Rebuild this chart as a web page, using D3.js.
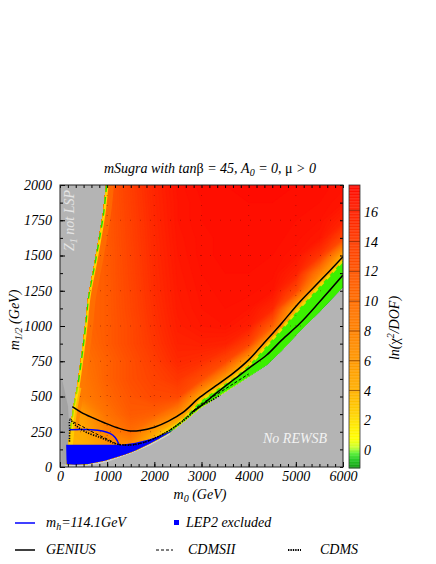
<!DOCTYPE html>
<html>
<head>
<meta charset="utf-8">
<script src="https://cdn.jsdelivr.net/npm/d3@7"></script>
<style>
body { margin: 0; background: #fff; }
text { font-family: "Liberation Serif", "Times New Roman", serif; font-style: italic; }
</style>
</head>
<body>
<svg id="chart" width="436" height="564"></svg>
<script>
// ---- data ----
const m0Grid    = [0, 500, 1000, 1500, 2000, 2500, 3000, 3500, 4000, 4500, 5000, 5500, 6000]
const mhalfGrid = [0, 125, 250, 375, 500, 625, 750, 875, 1000, 1125, 1250, 1375, 1500, 1625, 1750, 1875, 2000]

// ln(chi2/DOF), rows from m1/2 = 2000 (top) down to m1/2 = 0
const lnChi2Rows = [
    [10.0, 10.5, 11.7, 13.9, 15.8, 17.1, 17.5, 17.6, 17.6, 17.6, 17.6, 17.5, 17.3],
    [10.0, 10.5, 11.7, 13.8, 15.7, 17.0, 17.4, 17.5, 17.6, 17.6, 17.5, 17.4, 17.0],
    [10.0, 10.5, 11.6, 13.7, 15.6, 17.0, 17.4, 17.5, 17.5, 17.5, 17.4, 17.2, 16.0],
    [10.0, 10.5, 11.6, 13.6, 15.5, 16.9, 17.3, 17.5, 17.5, 17.5, 17.3, 16.8, 13.0],
    [10.0, 10.5, 11.5, 13.5, 15.4, 16.8, 17.3, 17.5, 17.5, 17.4, 17.0, 14.5, 4.0],
    [10.0, 10.5, 11.5, 13.4, 15.3, 16.7, 17.2, 17.4, 17.4, 17.3, 16.0, 8.0, 0.0],
    [10.0, 10.5, 11.5, 13.3, 15.2, 16.6, 17.1, 17.3, 17.3, 17.0, 13.0, 1.0, -0.5],
    [10.0, 10.5, 11.5, 13.2, 15.0, 16.5, 17.0, 17.2, 17.0, 15.5, 4.0, -0.5, -0.5],
    [10.0, 10.5, 11.5, 13.0, 14.8, 16.3, 16.8, 17.0, 16.3, 11.0, 0.0, -0.5, -0.5],
    [9.5, 10.0, 11.5, 13.0, 14.5, 16.0, 16.2, 16.0, 13.5, 1.0, -0.5, -0.5, -0.5],
    [9.0, 9.5, 11.0, 12.5, 14.0, 15.5, 15.0, 13.0, 4.0, -0.5, -0.5, -0.5, -0.5],
    [8.0, 9.0, 11.0, 12.5, 13.5, 14.5, 12.5, 5.0, -0.5, -0.5, -0.5, -0.5, -0.5],
    [7.0, 8.5, 10.5, 12.0, 13.0, 13.0, 4.0, -0.5, -0.5, -0.5, -0.5, -0.5, -0.5],
    [5.0, 5.5, 9.5, 11.5, 11.0, 7.0, -0.5, -0.5, -0.5, -0.5, -0.5, -0.5, -0.5],
    [4.0, 4.5, 8.0, 10.0, 5.0, -0.5, -0.5, -0.5, -0.5, -0.5, -0.5, -0.5, -0.5],
    [4.0, 4.0, 6.0, 6.0, 2.0, -0.5, -0.5, -0.5, -0.5, -0.5, -0.5, -0.5, -0.5],
    [3.0, 3.0, 5.0, 5.0, 2.0, -0.5, -0.5, -0.5, -0.5, -0.5, -0.5, -0.5, -0.5]
]

// boundary of "Z1 not LSP" region, top to bottom  [m0, m1/2]
const lspBoundary = [[975, 2000], [912, 1800], [742, 1467], [594, 1205], [530, 1000], [460, 808],
    [360, 567], [280, 425], [212, 262], [175, 156], [150, 60], [140, 20]]
// boundary of "No REWSB" region, left to right
const rewsbBoundary = [[140, 20], [320, 16], [600, 22], [950, 45], [1380, 88], [1590, 115], [1900, 165],
    [2100, 200], [2330, 245], [2600, 315], [2968, 416], [3300, 490], [3674, 569], [4000, 640],
    [4382, 723], [4700, 825], [5088, 965], [5500, 1100], [6000, 1277]]
// top edge of the green band along the REWSB boundary
const greenTop = [[2050, 205], [2330, 265], [2600, 335], [2968, 465], [3300, 545], [3674, 630],
    [4000, 720], [4382, 860], [4700, 980], [5088, 1130], [5500, 1280], [6000, 1465]]

const darkGray  = [[30, 630], [60, 600], [170, 430], [190, 300], [190, 100], [175, 20], [30, 20]]
const lightBand = [[60, 0], [140, 20], [320, 16], [600, 22], [950, 45], [1380, 88], [1590, 115],
    [1900, 165], [2330, 245], [2330, 228], [1900, 150], [1500, 95], [1000, 35], [600, 8], [300, 0]]
const lep2Region = [[130, 158], [1300, 158], [1600, 172], [1900, 196], [2150, 226], [2330, 252], [2420, 268],
    [2330, 245], [2100, 200], [1900, 165], [1590, 115], [1380, 88], [950, 45], [600, 22], [320, 16], [140, 20]]

const mhLine = [[200, 265], [420, 266], [672, 265], [900, 255], [1060, 238], [1170, 210], [1250, 160]]
const geniusUpper = [[261, 428], [450, 388], [700, 348], [950, 312], [1200, 280], [1450, 257], [1700, 259],
    [2000, 282], [2300, 325], [2600, 385], [2968, 495], [3300, 575], [3674, 666], [4000, 760],
    [4382, 900], [4700, 1020], [5088, 1172], [5500, 1315], [6000, 1491]]
const geniusLower = [[2800, 390], [2968, 428], [3300, 520], [3674, 617], [4000, 700], [4382, 794],
    [4700, 900], [5088, 1019], [5500, 1170], [6000, 1361]]
const cdms2Line = [[212, 345], [300, 318], [460, 290], [650, 255], [850, 222], [1050, 190], [1237, 160],
    [1500, 158], [1750, 172], [1950, 195], [2150, 228], [2330, 262], [2600, 330], [2968, 440],
    [3300, 510], [3674, 590], [4000, 660]]
const cdmsLine = [[200, 180], [205, 260], [212, 333], [350, 290], [565, 245], [848, 210], [1050, 182],
    [1202, 163], [1554, 157], [1908, 190], [2261, 248], [2614, 328], [2968, 430], [3200, 470], [3400, 510]]

const xTicks  = [0, 1000, 2000, 3000, 4000, 5000, 6000]
const yTicks  = [0, 250, 500, 750, 1000, 1250, 1500, 1750, 2000]
const cbTicks = [0, 2, 4, 6, 8, 10, 12, 14, 16]

const colorStops = [[-1.2, '#119911'], [-0.6, '#22cc22'], [-0.2, '#55ee33'], [0.2, '#c8ff30'],
    [0.8, '#ffff00'], [1.5, '#ffee00'], [2.5, '#ffd000'], [4, '#ffb000'], [6, '#ff9800'],
    [8, '#ff8200'], [10, '#ff6e00'], [12, '#ff5500'], [14, '#ff3d00'], [16, '#ff2200'], [17.8, '#ff0a00']]

// ---- layout ----
const svg = d3.select('#chart')
const x  = d3.scaleLinear().domain([0, 6000]).range([60, 343])
const y  = d3.scaleLinear().domain([0, 2000]).range([467, 185])
const cbY = d3.scaleLinear().domain([-1.2, 17.8]).range([468, 185])
const color = d3.scaleLinear()
    .domain(colorStops.map(d => d[0]))
    .range(colorStops.map(d => d[1]))
    .clamp(true)

const smooth = d3.line().x(d => x(d[0])).y(d => y(d[1])).curve(d3.curveCatmullRom.alpha(0.5))
const poly = d3.line().x(d => x(d[0])).y(d => y(d[1])).curve(d3.curveLinearClosed)

const defs = svg.append('defs')
defs.append('clipPath').attr('id', 'plotClip')
    .append('rect').attr('x', 60).attr('y', 185).attr('width', 283).attr('height', 282)

const allowed = [...lspBoundary, ...rewsbBoundary.slice(1), [6000, 2000]]
defs.append('clipPath').attr('id', 'allowedClip')
    .append('path').attr('d', poly(allowed))

const plot = svg.append('g').attr('clip-path', 'url(#plotClip)')

plot.append('rect').attr('x', 60).attr('y', 185).attr('width', 283).attr('height', 282).attr('fill', '#b4b4b4')
plot.append('path').attr('d', poly(darkGray)).attr('fill', '#a2a2a2')
plot.append('path').attr('d', poly(lightBand)).attr('fill', '#cdcdcd')

// heat map from grid through d3.contours
const n = m0Grid.length, m = mhalfGrid.length
const values = lnChi2Rows.slice().reverse().flat()
const thresholds = d3.range(-1.2, 17.8, 0.2)
const contours = d3.contours().size([n, m]).thresholds(thresholds)(values)
const gx = d3.scaleLinear().domain([0.5, n - 0.5]).range([x(m0Grid[0]), x(m0Grid[n - 1])])
const gy = d3.scaleLinear().domain([0.5, m - 0.5]).range([y(mhalfGrid[0]), y(mhalfGrid[m - 1])])
const gridPath = d3.geoPath(d3.geoTransform({
    point(px, py) { this.stream.point(gx(px), gy(py)) }
}))

const field = plot.append('g').attr('clip-path', 'url(#allowedClip)')
field.selectAll('path.level')
    .data(contours)
    .join('path')
    .attr('class', 'level')
    .attr('d', gridPath)
    .attr('fill', d => color(d.value + 0.1))
    .attr('stroke', d => color(d.value + 0.1))
    .attr('stroke-width', 0.4)

// thin strips along the LSP boundary
const upperLsp = smooth(lspBoundary.slice(0, 9))
field.append('path').attr('d', upperLsp)
    .attr('fill', 'none').attr('stroke', '#ff7a00').attr('stroke-width', 16).attr('opacity', 0.5)
field.append('path').attr('d', upperLsp)
    .attr('fill', 'none').attr('stroke', '#ffd400').attr('stroke-width', 5)
field.append('path').attr('d', upperLsp)
    .attr('fill', 'none').attr('stroke', '#22dd00').attr('stroke-width', 2.6)
    .attr('stroke-dasharray', '7,5')
field.append('path').attr('d', smooth(lspBoundary.slice(6)))
    .attr('fill', 'none').attr('stroke', '#ffe600').attr('stroke-width', 9).attr('opacity', 0.55)

// green band along the REWSB boundary
const greenBand = [...rewsbBoundary.filter(d => d[0] >= 2050), ...greenTop.slice().reverse()]
field.append('path').attr('d', poly(greenBand)).attr('fill', '#3cf000')
field.append('path').attr('d', smooth(greenTop))
    .attr('fill', 'none').attr('stroke', '#f0d800').attr('stroke-width', 2.5)
    .attr('stroke-dasharray', '5,4')

// faint dotted grid
const dotted = field.append('g').attr('stroke', '#5a0000').attr('stroke-opacity', 0.4)
    .attr('stroke-width', 1).attr('stroke-dasharray', '1,9')
dotted.selectAll('line.h').data(yTicks.slice(1, -1)).join('line').attr('class', 'h')
    .attr('x1', 60).attr('x2', 343).attr('y1', d => y(d)).attr('y2', d => y(d))
dotted.selectAll('line.v').data(xTicks.slice(1, -1)).join('line').attr('class', 'v')
    .attr('y1', 185).attr('y2', 467).attr('x1', d => x(d)).attr('x2', d => x(d))

// LEP2 excluded
plot.append('path').attr('d', poly(lep2Region)).attr('fill', '#0000ff')

// curves
plot.append('path').attr('d', smooth(mhLine)).attr('fill', 'none')
    .attr('stroke', '#0000ff').attr('stroke-width', 1.5)
plot.append('path').attr('d', smooth(geniusUpper)).attr('fill', 'none')
    .attr('stroke', '#000').attr('stroke-width', 1.5)
plot.append('path').attr('d', smooth(geniusLower)).attr('fill', 'none')
    .attr('stroke', '#000').attr('stroke-width', 1.5)
plot.append('path').attr('d', smooth(cdms2Line)).attr('fill', 'none')
    .attr('stroke', '#000').attr('stroke-width', 1).attr('stroke-dasharray', '3,2')
plot.append('path').attr('d', smooth(cdmsLine)).attr('fill', 'none')
    .attr('stroke', '#000').attr('stroke-width', 1.6).attr('stroke-dasharray', '1.3,1.3')

// region labels
const lsp = svg.append('text').attr('transform', 'translate(74,251) rotate(-90)')
    .attr('font-size', 14).attr('fill', '#e4e4e4')
lsp.append('tspan').text('Z')
lsp.append('tspan').attr('dy', 3).attr('font-size', 10).text('1')
lsp.append('tspan').attr('dy', -3).text(' not LSP')

svg.append('text').attr('x', 263).attr('y', 443).attr('font-size', 14)
    .attr('fill', '#f2f2f2').text('No REWSB')

// frame and ticks
const minorX = d3.range(0, 6001, 1000 / 6)
const minorY = d3.range(0, 2001, 125)
const tickFont = sel => sel.selectAll('text').attr('font-size', 14).attr('fill', '#000')
    .style('font-family', '"Liberation Serif", serif').style('font-style', 'italic')

svg.append('g').attr('transform', 'translate(0,467)')
    .call(d3.axisBottom(x).tickValues(minorX).tickSize(-3).tickSizeOuter(0).tickFormat(''))
svg.append('g').attr('transform', 'translate(0,467)')
    .call(d3.axisBottom(x).tickValues(xTicks).tickSize(-5).tickSizeOuter(0).tickPadding(4).tickFormat(d3.format('d')))
    .call(tickFont)
svg.append('g').attr('transform', 'translate(0,185)')
    .call(d3.axisTop(x).tickValues(minorX).tickSize(-3).tickSizeOuter(0).tickFormat(''))
svg.append('g').attr('transform', 'translate(60,0)')
    .call(d3.axisLeft(y).tickValues(minorY).tickSize(-3).tickSizeOuter(0).tickFormat(''))
svg.append('g').attr('transform', 'translate(60,0)')
    .call(d3.axisLeft(y).tickValues(yTicks).tickSize(-5).tickSizeOuter(0).tickPadding(8).tickFormat(d3.format('d')))
    .call(tickFont)
svg.append('g').attr('transform', 'translate(343,0)')
    .call(d3.axisRight(y).tickValues(minorY).tickSize(-3).tickSizeOuter(0).tickFormat(''))
svg.selectAll('.domain').remove()
svg.append('rect').attr('x', 60).attr('y', 185).attr('width', 283).attr('height', 282)
    .attr('fill', 'none').attr('stroke', '#222').attr('stroke-width', 1)

// titles
const title = svg.append('text').attr('x', 210).attr('y', 173).attr('text-anchor', 'middle').attr('font-size', 14)
title.append('tspan').text('mSugra with tan')
title.append('tspan').style('font-style', 'normal').text('β')
title.append('tspan').text(' = 45, A')
title.append('tspan').attr('dy', 3).attr('font-size', 10).text('0')
title.append('tspan').attr('dy', -3).text(' = 0, ')
title.append('tspan').style('font-style', 'normal').text('μ')
title.append('tspan').text(' > 0')

const xl = svg.append('text').attr('x', 200).attr('y', 499).attr('text-anchor', 'middle').attr('font-size', 14)
xl.append('tspan').text('m')
xl.append('tspan').attr('dy', 3).attr('font-size', 10).text('0')
xl.append('tspan').attr('dy', -3).text(' (GeV)')

const yl = svg.append('text').attr('transform', 'translate(19,320) rotate(-90)')
    .attr('text-anchor', 'middle').attr('font-size', 14)
yl.append('tspan').text('m')
yl.append('tspan').attr('dy', 3).attr('font-size', 10).text('1/2')
yl.append('tspan').attr('dy', -3).text(' (GeV)')

// colour bar
const cb = svg.append('g')
cb.selectAll('rect.step')
    .data(d3.range(-1.2, 17.8, 0.05))
    .join('rect').attr('class', 'step')
    .attr('x', 349).attr('width', 11)
    .attr('y', d => cbY(d + 0.05))
    .attr('height', d => cbY(d) - cbY(d + 0.05) + 0.3)
    .attr('fill', d => color(d + 0.025))
cb.selectAll('line.lvl')
    .data([4, 6, 8, 10, 12, 14, 16.1])
    .join('line').attr('class', 'lvl')
    .attr('x1', 349).attr('x2', 360).attr('y1', d => cbY(d)).attr('y2', d => cbY(d))
    .attr('stroke', '#5a1a00').attr('stroke-opacity', 0.55).attr('stroke-width', 1)
cb.append('rect').attr('x', 349).attr('y', 185).attr('width', 11).attr('height', 283)
    .attr('fill', 'none').attr('stroke', '#333').attr('stroke-width', 0.8)
svg.append('g').attr('transform', 'translate(360,0)')
    .call(d3.axisRight(cbY).tickValues(cbTicks).tickSize(0).tickPadding(4))
    .call(tickFont)
    .select('.domain').remove()

const cl = svg.append('text').attr('transform', 'translate(399,328) rotate(-90)')
    .attr('text-anchor', 'middle').attr('font-size', 14)
cl.append('tspan').text('ln(')
cl.append('tspan').style('font-style', 'normal').text('χ')
cl.append('tspan').attr('dy', -5).attr('font-size', 10).text('2')
cl.append('tspan').attr('dy', 5).text('/DOF)')

// legend
const legend = svg.append('g')
const row1 = 523, row2 = 550
legend.append('line').attr('x1', 15).attr('x2', 35).attr('y1', row1).attr('y2', row1)
    .attr('stroke', '#0000ff').attr('stroke-width', 1.5)
const lt1 = legend.append('text').attr('x', 46).attr('y', row1 + 4).attr('font-size', 14)
lt1.append('tspan').text('m')
lt1.append('tspan').attr('dy', 3).attr('font-size', 10).text('h')
lt1.append('tspan').attr('dy', -3).text('=114.1GeV')
legend.append('rect').attr('x', 174).attr('y', row1 - 3).attr('width', 5).attr('height', 5).attr('fill', '#0000ff')
legend.append('text').attr('x', 186).attr('y', row1 + 4).attr('font-size', 14).text('LEP2 excluded')

const lineKeys = [
    { label: 'GENIUS', x0: 15, x1: 35, tx: 46, width: 1.5, dash: null },
    { label: 'CDMSII', x0: 156, x1: 173, tx: 188, width: 1, dash: '3,2' },
    { label: 'CDMS', x0: 288, x1: 301, tx: 320, width: 2, dash: '1.4,1' }
]
lineKeys.forEach(k => {
    legend.append('line').attr('x1', k.x0).attr('x2', k.x1).attr('y1', row2).attr('y2', row2)
        .attr('stroke', '#000').attr('stroke-width', k.width).attr('stroke-dasharray', k.dash)
    legend.append('text').attr('x', k.tx).attr('y', row2 + 4).attr('font-size', 14).text(k.label)
})
</script>
</body>
</html>
